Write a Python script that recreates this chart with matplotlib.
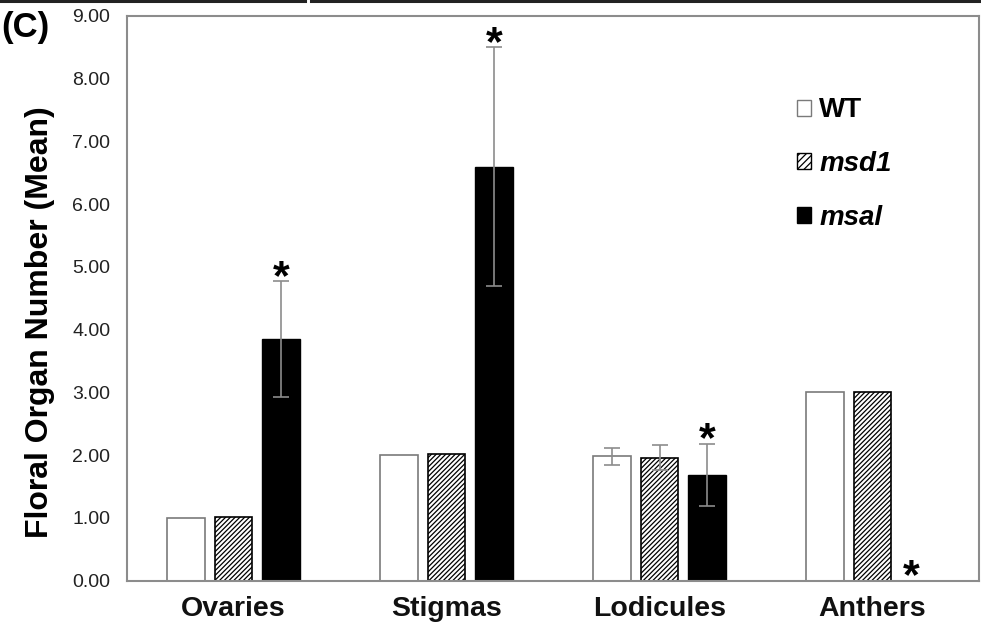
import matplotlib
matplotlib.use("Agg")
import matplotlib.pyplot as plt
import numpy as np
from matplotlib.patches import Patch
from matplotlib.lines import Line2D

plt.rcParams['font.family'] = ['Liberation Sans', 'DejaVu Sans']
plt.rcParams['hatch.linewidth'] = 0.9

# Data
organs = ["Ovaries", "Stigmas", "Lodicules", "Anthers"]
genotypes = ["WT", "msd1", "msal"]
wt_mean = [1.00, 2.00, 1.98, 3.00]
wt_err = [0.0, 0.0, 0.14, 0.0]
msd1_mean = [1.02, 2.02, 1.96, 3.00]
msd1_err = [0.0, 0.0, 0.20, 0.0]
msal_mean = [3.85, 6.60, 1.68, 0.00]
msal_err = [0.92, 1.90, 0.50, 0.0]
# Significance markers (per organ, for msal)
significant = [True, True, True, True]
yticks = [0, 1, 2, 3, 4, 5, 6, 7, 8, 9]

fig = plt.figure(figsize=(9.81, 6.34), dpi=100)
ax = fig.add_axes([127/981, 1 - 580.5/634, 852/981, (580.5 - 16)/634])

x = np.arange(len(organs))
w = 0.174
off = 0.223
frame_gray = "#8c8c8c"
err_gray = "#8c8c8c"

ax.bar(x - off, wt_mean, w, color="white", edgecolor="#7a7a7a", linewidth=1.2, zorder=2)
ax.bar(x, msd1_mean, w, color="white", edgecolor="black", hatch="///////",
       linewidth=1.2, zorder=2)
ax.bar(x + off, msal_mean, w, color="black", edgecolor="black", linewidth=1.0, zorder=2)

ekw = dict(fmt="none", ecolor=err_gray, elinewidth=1.2, capsize=6, capthick=1.2, zorder=3)
for xs, m, e in [(x - off, wt_mean, wt_err), (x, msd1_mean, msd1_err), (x + off, msal_mean, msal_err)]:
    xs = np.asarray(xs); m = np.asarray(m); e = np.asarray(e)
    sel = e > 0
    ax.errorbar(xs[sel], m[sel], yerr=e[sel], **ekw)

# Asterisks above msal bars
for xi, m, e, s in zip(x, msal_mean, msal_err, significant):
    if s:
        ax.text(xi + off - (0.04 if m == 0 else 0), m + e - 0.12, "*", ha="center", va="baseline",
                fontsize=31, fontweight="bold", zorder=4)

ax.set_xlim(-0.5, 3.5)
ax.set_ylim(0, 9)
ax.set_yticks(yticks)
ax.set_yticklabels([f"{v:.2f}" for v in yticks], fontsize=14, color="#222222")
ax.set_xticks(x)
ax.set_xticklabels(organs, fontsize=20.5, fontweight="bold", color="#111111")
ax.tick_params(axis="y", length=0, pad=12)
ax.tick_params(axis="x", length=0, pad=11)
for sp in ax.spines.values():
    sp.set_color(frame_gray)
    sp.set_linewidth(1.5)

ax.set_ylabel("Floral Organ Number (Mean)", fontsize=23, fontweight="bold")
ax.yaxis.set_label_coords(-0.0845, 0.458)

handles = [
    Patch(facecolor="white", edgecolor="#7a7a7a", linewidth=1.0),
    Patch(facecolor="white", edgecolor="black", hatch="/////", linewidth=1.0),
    Patch(facecolor="black", edgecolor="black", linewidth=1.0),
]
leg = ax.legend(handles, genotypes, loc="upper left", bbox_to_anchor=(0.757, 0.90),
                frameon=False, handlelength=0.5, handleheight=0.5, handletextpad=0.3,
                labelspacing=1.0, prop=dict(size=20, weight="bold"))
for t in leg.get_texts()[1:]:
    t.set_fontstyle("italic")

fig.text(1/981, 1 - 27/634, "(C)", fontsize=25, fontweight="bold", va="center", ha="left")

# Panel border lines along the top edge
fig.add_artist(Line2D([0, 305/981], [1 - 1/634, 1 - 1/634], color="#222222", linewidth=2.2,
                      transform=fig.transFigure))
fig.add_artist(Line2D([311/981, 1], [1 - 1/634, 1 - 1/634], color="#222222", linewidth=2.2,
                      transform=fig.transFigure))

fig.savefig("out.png", dpi=100)
